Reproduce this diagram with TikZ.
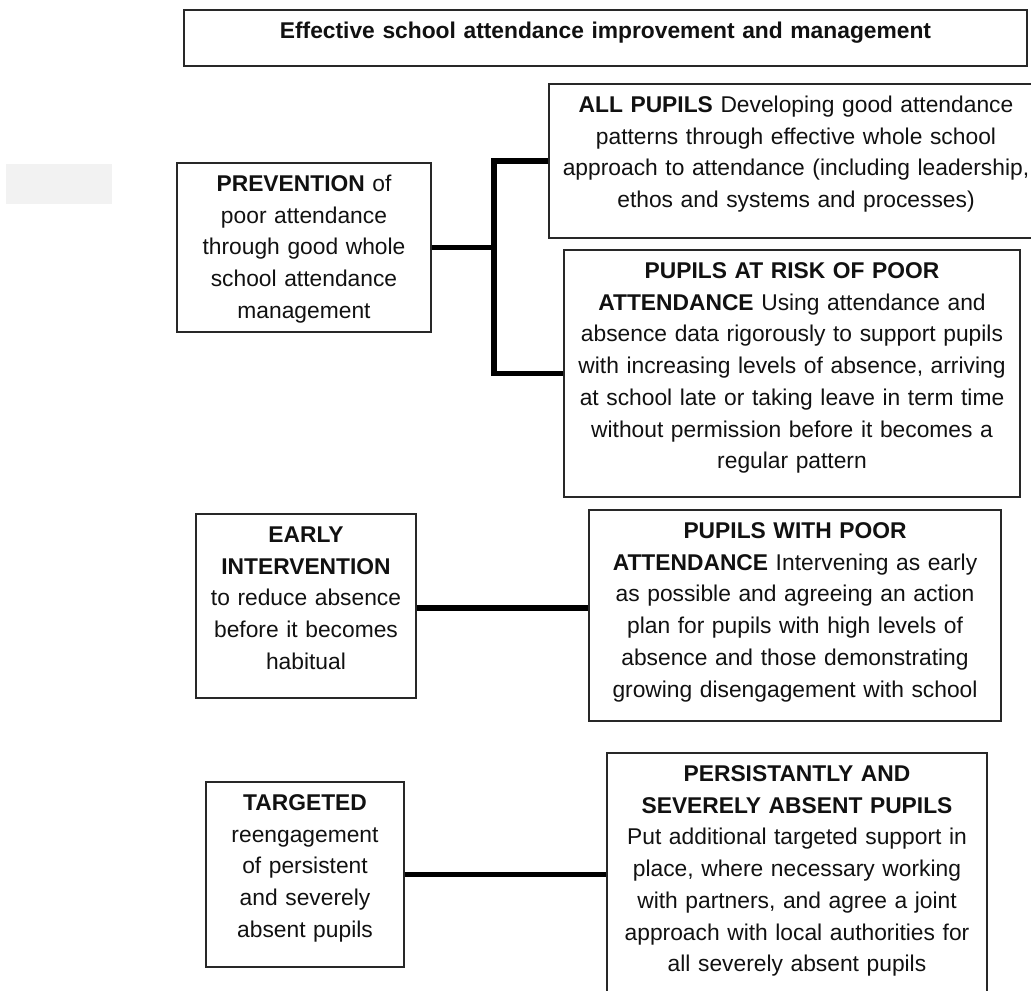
\documentclass[tikz,border=0pt]{standalone}
\usepackage{fontspec}
\setmainfont{Liberation Sans}
\usepackage{xcolor}
\usetikzlibrary{positioning,calc}
\newlength{\pxu}
\setlength{\pxu}{0.75pt}
\definecolor{lightgrey}{RGB}{242,242,242}
\definecolor{boxline}{RGB}{40,40,40}
\definecolor{inkblack}{RGB}{17,17,17}

\begin{document}
\begin{tikzpicture}[x=0.75pt,y=-0.75pt,
          box/.style={draw=boxline,line width=0.9pt,inner sep=0pt},
          txt/.style={anchor=base,yshift=-29\pxu,align=center,inner sep=0pt,
                      text=inkblack,font=\fontsize{17.1}{23.8}\selectfont},
          link/.style={line width=4.2pt}]
        \useasboundingbox (0,0) rectangle (1031,990);
        \clip (0,0) rectangle (1031,990);
        \fill[lightgrey] (6,164) rectangle (112,204);
        % boxes
        \node[box,minimum width=843\pxu,minimum height=56\pxu]  (title) at (605.5,38)  {};
        \node[box,minimum width=254\pxu,minimum height=169\pxu] (prev)  at (304,247.5) {};
        \node[box,minimum width=494\pxu,minimum height=154\pxu] (allp)  at (796,161)   {};
        \node[box,minimum width=456\pxu,minimum height=247\pxu] (risk)  at (792,373.5) {};
        \node[box,minimum width=220\pxu,minimum height=184\pxu] (early) at (306,606)   {};
        \node[box,minimum width=412\pxu,minimum height=211\pxu] (poor)  at (795,615.5) {};
        \node[box,minimum width=198\pxu,minimum height=185\pxu] (targ)  at (305,874.5) {};
        \node[box,minimum width=380\pxu,minimum height=252\pxu] (pers)  at (797,879)   {};
        % texts
        \node[txt,text width=840\pxu] (titletxt) at (title.north)
          {\textbf{Effective school attendance improvement and management}};
        \node[txt,text width=250\pxu] (prevtxt) at (prev.north)
          {\textbf{PREVENTION} of\\poor attendance\\through good whole\\school attendance\\management};
        \node[txt,text width=490\pxu] (allptxt) at (allp.north)
          {\textbf{ALL PUPILS} Developing good attendance\\patterns through effective whole school\\approach to attendance (including leadership,\\ethos and systems and processes)};
        \node[txt,text width=452\pxu] (risktxt) at (risk.north)
          {\textbf{PUPILS AT RISK OF POOR}\\\textbf{ATTENDANCE} Using attendance and\\absence data rigorously to support pupils\\with increasing levels of absence, arriving\\at school late or taking leave in term time\\without permission before it becomes a\\regular pattern};
        \node[txt,text width=216\pxu] (earlytxt) at (early.north)
          {\textbf{EARLY}\\\textbf{INTERVENTION}\\to reduce absence\\before it becomes\\habitual};
        \node[txt,text width=408\pxu] (poortxt) at (poor.north)
          {\textbf{PUPILS WITH POOR}\\\textbf{ATTENDANCE} Intervening as early\\as possible and agreeing an action\\plan for pupils with high levels of\\absence and those demonstrating\\growing disengagement with school};
        \node[txt,text width=194\pxu] (targtxt) at (targ.north)
          {\textbf{TARGETED}\\reengagement\\of persistent\\and severely\\absent pupils};
        \node[txt,text width=376\pxu] (perstxt) at (pers.north)
          {\textbf{PERSISTANTLY AND}\\\textbf{SEVERELY ABSENT PUPILS}\\Put additional targeted support in\\place, where necessary working\\with partners, and agree a joint\\approach with local authorities for\\all severely absent pupils};
        % links
        \coordinate (trunk) at (494,247.5);
        \draw[link] (prev.east) -- (trunk);
        \draw[link] (allp.west) -| (trunk) |- (risk.west);
        \draw[link] ([yshift=-1.5]early.east) -- ([yshift=-1.5]early.east -| poor.west);
        \draw[link] (targ.east) -- (targ.east -| pers.west);
      \end{tikzpicture}
\end{document}
